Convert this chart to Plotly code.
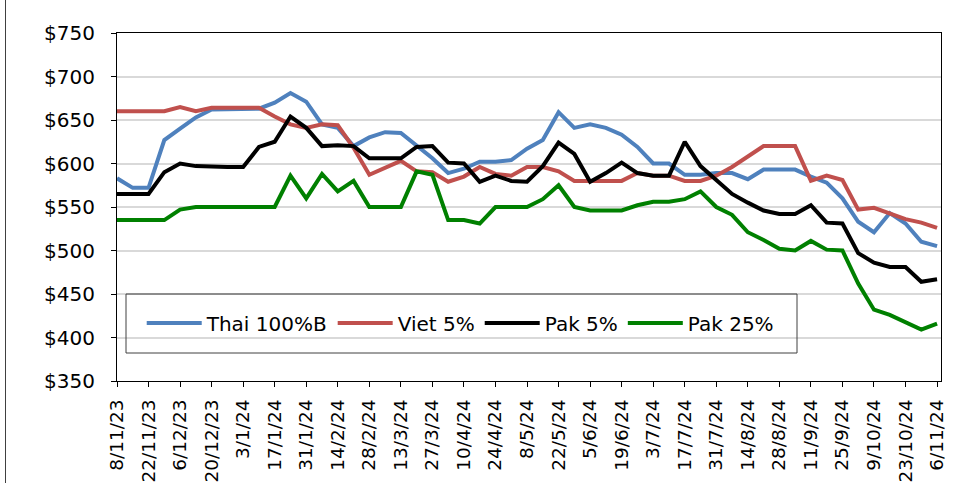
import plotly.graph_objects as go

weeks = ["8/11/23","15/11/23","22/11/23","29/11/23","6/12/23","13/12/23","20/12/23","27/12/23",
         "3/1/24","10/1/24","17/1/24","24/1/24","31/1/24","7/2/24","14/2/24","21/2/24","28/2/24",
         "6/3/24","13/3/24","20/3/24","27/3/24","3/4/24","10/4/24","17/4/24","24/4/24","1/5/24",
         "8/5/24","15/5/24","22/5/24","29/5/24","5/6/24","12/6/24","19/6/24","26/6/24","3/7/24",
         "10/7/24","17/7/24","24/7/24","31/7/24","7/8/24","14/8/24","21/8/24","28/8/24","4/9/24",
         "11/9/24","18/9/24","25/9/24","2/10/24","9/10/24","16/10/24","23/10/24","30/10/24","6/11/24"]

thai = [583,572,572,627,640,653,662,662,662,663,670,681,671,645,641,620,630,636,635,620,606,589,594,602,
        602,604,617,627,659,641,645,641,633,619,600,600,587,587,589,589,582,593,593,593,585,578,560,533,
        521,543,531,510,505]
viet = [660,660,660,660,665,660,664,664,664,664,654,645,641,645,644,618,587,595,603,591,590,579,585,596,
        588,586,596,596,591,580,580,580,580,589,586,586,580,580,586,596,608,620,620,620,580,586,581,547,
        549,543,536,532,526]
pak5 = [565,565,565,590,600,597,596,596,596,619,625,654,641,620,621,620,606,606,606,619,620,601,600,579,
        586,580,579,597,624,611,579,589,601,589,586,586,625,597,581,565,555,546,542,542,552,532,531,497,
        486,481,481,464,467]
pak25 = [535,535,535,535,547,550,550,550,550,550,550,586,560,588,568,580,550,550,550,591,587,535,535,531,
         550,550,550,559,575,550,546,546,546,552,556,556,559,568,550,541,521,512,502,500,511,501,500,462,
         432,426,417,409,416]

series = [("Thai 100%B", thai, "#4F81BD"),
          ("Viet 5%", viet, "#C0504D"),
          ("Pak 5%", pak5, "#000000"),
          ("Pak 25%", pak25, "#008000")]

tick_labels = weeks[::2]
y_ticks = list(range(350, 751, 50))

FONT = "DejaVu Sans"
FS = 20

fig = go.Figure()
for name, vals, color in series:
    fig.add_trace(go.Scatter(x=weeks, y=vals, name=name, mode="lines",
                             line=dict(color=color, width=4)))

fig.update_layout(
    width=958, height=483,
    margin=dict(l=117, r=17, t=33, b=102),
    paper_bgcolor="white", plot_bgcolor="white",
    font=dict(family=FONT, size=FS, color="#000000"),
    showlegend=True,
    hovermode=False,
    legend=dict(orientation="h", x=0.03, y=0.1667, xanchor="left", yanchor="middle",
                bgcolor="rgba(0,0,0,0)", borderwidth=0, itemwidth=55,
                font=dict(family=FONT, size=FS, color="#000000")),
)

fig.update_xaxes(type="category", range=[0, 52.25], tickmode="array", tickvals=tick_labels,
                 ticktext=tick_labels, tickangle=-90, ticks="outside", ticklen=5,
                 tickcolor="#000000", showline=True, linecolor="#000000", linewidth=1,
                 mirror=True, showgrid=False, zeroline=False, ticklabelstandoff=5,
                 automargin=False,
                 tickfont=dict(family=FONT, size=18.5, color="#000000"))
fig.update_yaxes(range=[350, 750], tickvals=y_ticks, ticktext=["$%d" % v for v in y_ticks],
                 ticks="outside", ticklen=5, tickcolor="#000000", showline=True,
                 linecolor="#000000", linewidth=1, mirror=True, showgrid=True,
                 gridcolor="#D9D9D9", gridwidth=1.5, zeroline=False, ticklabelstandoff=12,
                 automargin=False,
                 tickfont=dict(family=FONT, size=FS, color="#000000"))

# legend frame
fig.add_shape(type="rect", xref="paper", yref="paper",
              x0=(126 - 117) / 824, x1=(797 - 117) / 824,
              y0=(381 - 353) / 348, y1=(381 - 294) / 348,
              line=dict(color="#404040", width=1), fillcolor="rgba(0,0,0,0)")
# outer chart border (left edge)
fig.add_shape(type="line", xref="paper", yref="paper",
              x0=(5.5 - 117) / 824, x1=(5.5 - 117) / 824, y0=-0.5, y1=1.2,
              line=dict(color="#404040", width=1))

fig.write_html("out.html", config={"displayModeBar": False},
               post_script="document.body.style.margin='0px';")
